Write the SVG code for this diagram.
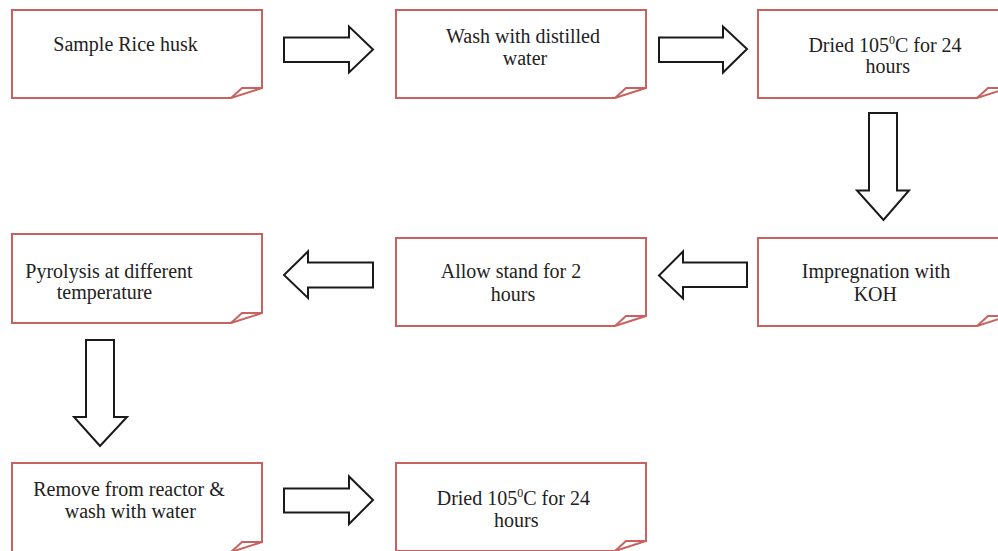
<svg xmlns="http://www.w3.org/2000/svg" width="998" height="551" viewBox="0 0 998 551">
<style>
.box{fill:#fff;stroke:#c9625f;stroke-width:2;stroke-linejoin:miter}
.fold{fill:none;stroke:#c9625f;stroke-width:2}
.arr{fill:#fff;stroke:#1a1a1a;stroke-width:2;stroke-linejoin:miter}
text{font-family:"Liberation Serif","Times New Roman",serif;font-size:20px;fill:#222;text-anchor:middle}
.sup{font-size:12px}
</style>
<rect width="998" height="551" fill="#fff"/>
<g id="connectors">
<path class="arr" d="M284,37.5 H349 V26.5 L373,49.5 L349,72.5 V62 H284 Z"/>
<path class="arr" d="M659,37.5 H723 V26.5 L747,49 L723,72.5 V62 H659 Z"/>
<path class="arr" d="M869,113 V190.5 H857 L883.5,220 L909,190.5 H897 V113 Z"/>
<path class="arr" d="M747,262.5 H683 V251.5 L659,275.5 L683,298.5 V287 H747 Z"/>
<path class="arr" d="M373,262.5 H308 V251.5 L284,275 L308,298 V287.5 H373 Z"/>
<path class="arr" d="M86,340 V417 H74 L100,446 L127,417 H114 V340 Z"/>
<path class="arr" d="M284,488.5 H349 V476.5 L373,500 L349,524 V512.5 H284 Z"/>
</g>
<g id="n1">
<path class="box" d="M12,10 H262 V88 L231,98 H12 Z"/>
<path class="fold" d="M231,98 L242,88 H262"/>
<text x="125.5" y="50.5">Sample Rice husk</text>
</g>
<g id="n2">
<path class="box" d="M396,10 H646 V88 L615,98 H396 Z"/>
<path class="fold" d="M615,98 L626,88 H646"/>
<text x="523" y="43.3">Wash with distilled</text>
<text x="525" y="65">water</text>
</g>
<g id="n3">
<path class="box" d="M758,10 H1008 V88 L977,98 H758 Z"/>
<path class="fold" d="M977,98 L988,88 H1008"/>
<text x="885" y="51.7">Dried 105<tspan class="sup" dy="-8">0</tspan><tspan dy="8">C for 24</tspan></text>
<text x="887.7" y="72.7">hours</text>
</g>
<g id="n4">
<path class="box" d="M758,238 H1008 V316 L977,326 H758 Z"/>
<path class="fold" d="M977,326 L988,316 H1008"/>
<text x="876" y="278.3">Impregnation with</text>
<text x="875.3" y="301">KOH</text>
</g>
<g id="n5">
<path class="box" d="M396,238 H646 V316 L615,326 H396 Z"/>
<path class="fold" d="M615,326 L626,316 H646"/>
<text x="511" y="278.3">Allow stand for 2</text>
<text x="513" y="301">hours</text>
</g>
<g id="n6">
<path class="box" d="M12,234 H262 V313 L231,323 H12 Z"/>
<path class="fold" d="M231,323 L242,313 H262"/>
<text x="109" y="278.3">Pyrolysis at different</text>
<text x="104.5" y="299">temperature</text>
</g>
<g id="n7">
<path class="box" d="M12,463 H262 V542 L231,552 H12 Z"/>
<path class="fold" d="M231,552 L242,542 H262"/>
<text x="129" y="495.7">Remove from reactor &amp;</text>
<text x="130.3" y="518.3">wash with water</text>
</g>
<g id="n8">
<path class="box" d="M396,463 H646 V541 L615,551 H396 Z"/>
<path class="fold" d="M615,551 L626,541 H646"/>
<text x="513.3" y="505">Dried 105<tspan class="sup" dy="-8">0</tspan><tspan dy="8">C for 24</tspan></text>
<text x="516.3" y="526.7">hours</text>
</g>
</svg>
